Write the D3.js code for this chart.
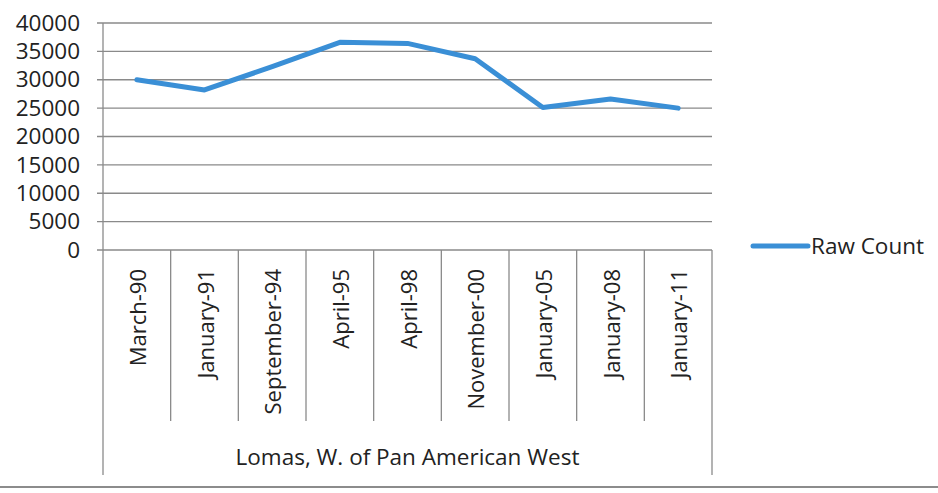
<!DOCTYPE html>
<html><head><meta charset="utf-8">
<script src="https://cdn.jsdelivr.net/npm/d3@7"></script>
<style>body{margin:0;background:#fff}svg{display:block}</style>
</head><body><svg id="c" width="938" height="493"></svg>
<script>
const categories = ["March-90","January-91","September-94","April-95","April-98","November-00","January-05","January-08","January-11"];
const rawCount = [30000,28200,32300,36600,36400,33700,25100,26600,25000];
const yTicks = [0,5000,10000,15000,20000,25000,30000,35000,40000];
const seriesName = "Raw Count";
const groupLabel = "Lomas, W. of Pan American West";

(function(){
const font = "'Open Sans', sans-serif";
const fs = 22.5, fsCat = 22;
const txt = "#222";
const svg = d3.select("#c");
const pLeft = 103, pRight = 712, pTop = 23, pBottom = 250, axisBottom = 475, catBottom = 421;
const x = d3.scaleBand().domain(categories).range([pLeft, pRight]);
const y = d3.scaleLinear().domain([0, 40000]).range([pBottom, pTop]);

svg.append("g").selectAll("line").data(yTicks).join("line")
  .attr("x1", pLeft - 6).attr("x2", pRight)
  .attr("y1", d => y(d)).attr("y2", d => y(d))
  .attr("stroke", "#8a8a8a").attr("stroke-width", 1.3);

const yAxis = svg.append("g").attr("transform", `translate(${pLeft},0)`)
  .call(d3.axisLeft(y).tickValues(yTicks).tickSize(0).tickPadding(23).tickFormat(d3.format("d")));
yAxis.select(".domain").remove();
yAxis.selectAll("text").attr("font-family", font).attr("font-size", fs).attr("fill", txt);

const g = svg.append("g").attr("stroke", "#8a8a8a").attr("stroke-width", 1.3);
g.append("line").attr("x1", pLeft).attr("x2", pLeft).attr("y1", pTop).attr("y2", axisBottom);
g.append("line").attr("x1", pRight).attr("x2", pRight).attr("y1", pBottom).attr("y2", axisBottom);
g.selectAll(".sep").data(categories.slice(1)).join("line")
  .attr("x1", d => x(d)).attr("x2", d => x(d)).attr("y1", pBottom).attr("y2", catBottom);

svg.append("g").selectAll("text").data(categories).join("text")
  .attr("transform", d => `translate(${x(d) + x.bandwidth()/2 + 9},${pBottom + 19}) rotate(-90)`)
  .attr("text-anchor", "end").attr("font-family", font).attr("font-size", fsCat).attr("fill", txt)
  .text(d => d);

svg.append("text").attr("x", (pLeft + pRight) / 2).attr("y", 465).attr("text-anchor", "middle")
  .attr("font-family", font).attr("font-size", fs).attr("fill", txt).text(groupLabel);

const line = d3.line().x((d, i) => x(categories[i]) + x.bandwidth() / 2).y(d => y(d));
svg.append("path").datum(rawCount).attr("d", line).attr("fill", "none")
  .attr("stroke", "#3a8fd6").attr("stroke-width", 5).attr("stroke-linejoin", "round").attr("stroke-linecap", "round");

svg.append("line").attr("x1", 753).attr("x2", 808).attr("y1", 246).attr("y2", 246)
  .attr("stroke", "#3a8fd6").attr("stroke-width", 5).attr("stroke-linecap", "round");
svg.append("text").attr("x", 811).attr("y", 254).attr("font-family", font).attr("font-size", fs)
  .attr("fill", txt).text(seriesName);

svg.append("line").attr("x1", 0).attr("x2", 938).attr("y1", 487).attr("y2", 487)
  .attr("stroke", "#666").attr("stroke-width", 1.5);
})();
</script></body></html>
